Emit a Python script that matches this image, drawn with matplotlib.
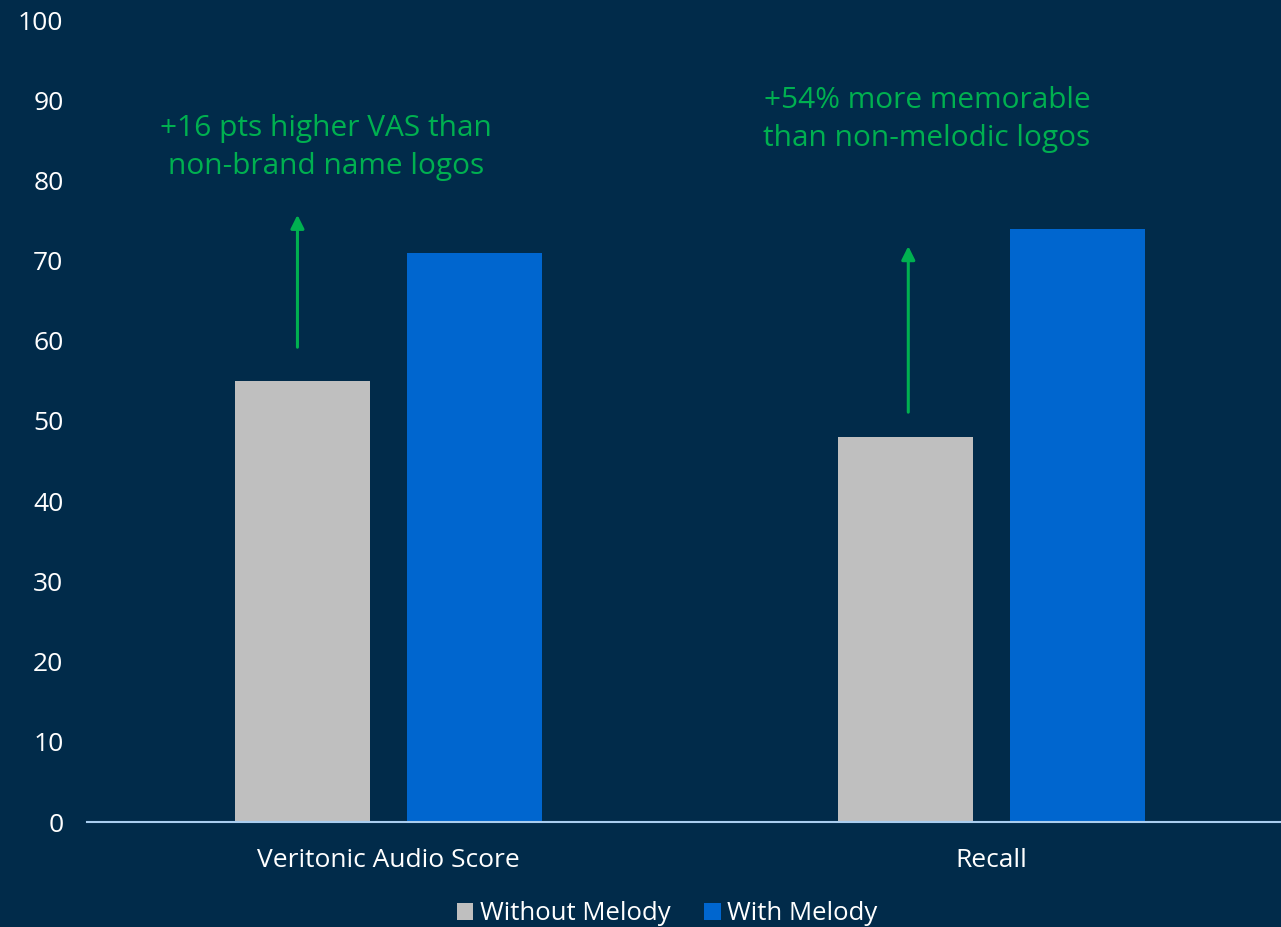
import matplotlib
matplotlib.use("Agg")
import matplotlib.pyplot as plt
import numpy as np

categories = ["Veritonic Audio Score", "Recall"]
without_melody = [55, 48]
with_melody = [71, 74]
series_names = ["Without Melody", "With Melody"]
annotations = ["+16 pts higher VAS than\nnon-brand name logos",
               "+54% more memorable\nthan non-melodic logos"]
arrow_tail = [59.2, 51.1]
arrow_head = [75.7, 71.8]
yticks = list(range(0, 101, 10))

BG = "#012b4a"
GRAY = "#bfbfbf"
BLUE = "#0066cf"
GREEN = "#00b050"
FONT = "Open Sans"

plt.rcParams['font.family'] = [FONT, 'DejaVu Sans']

fig = plt.figure(figsize=(12.81, 9.27), dpi=100, facecolor=BG)
W, H = 1281, 927
ax = fig.add_axes([87 / W, 1 - 822 / H, 1206 / W, 802 / H], facecolor=BG)

x = np.arange(len(categories))
bw = 0.224
off = 0.142
ax.bar(x - off, without_melody, bw, color=GRAY, label=series_names[0], zorder=2)
ax.bar(x + off, with_melody, bw, color=BLUE, label=series_names[1], zorder=2)

ax.set_xlim(-0.5, 1.5)
ax.set_ylim(0, 100)
ax.set_yticks(yticks)
ax.set_yticklabels([str(t) for t in yticks], color="white", fontsize=19)
ax.set_xticks(x)
ax.set_xticklabels(categories, color="white", fontsize=19)
ax.tick_params(axis='both', length=0)
ax.tick_params(axis='y', pad=17)
ax.tick_params(axis='x', pad=19)
for s in ["top", "right", "left"]:
    ax.spines[s].set_visible(False)
ax.spines["bottom"].set_color("#a9cdef")
ax.spines["bottom"].set_linewidth(1.5)

arrow_x = [-0.151, 0.862]
text_pos = [(-0.104, 84.1), (0.893, 87.6)]
for i in range(2):
    ax.annotate("", xy=(arrow_x[i], arrow_head[i]), xytext=(arrow_x[i], arrow_tail[i]),
                arrowprops=dict(arrowstyle="-|>,head_length=0.8,head_width=0.4",
                                color=GREEN, lw=2.2, shrinkA=0, shrinkB=0))
    ax.text(text_pos[i][0], text_pos[i][1], annotations[i], color=GREEN, fontsize=21.5,
            ha="center", va="center", linespacing=1.38)

leg = fig.legend(loc="lower center", bbox_to_anchor=(667 / W, -0.024), ncol=2,
                 frameon=False, fontsize=18.5, handlelength=0.65, handleheight=0.65,
                 handletextpad=0.25, columnspacing=1.3, labelcolor="white")

fig.savefig("out.png", dpi=100, facecolor=BG)
